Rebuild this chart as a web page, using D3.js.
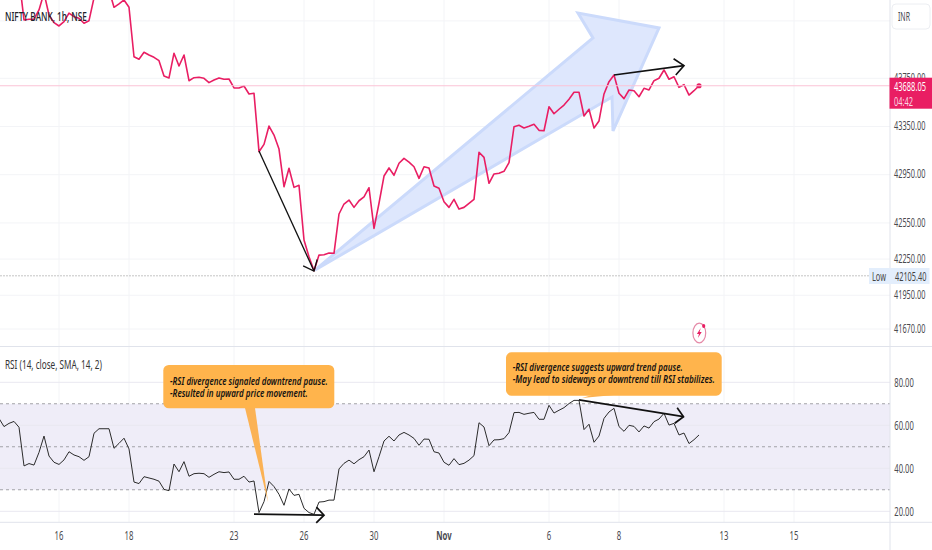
<!DOCTYPE html>
<html>
<head>
<meta charset="utf-8">
<script src="https://cdn.jsdelivr.net/npm/d3@7"></script>
<style>
html,body{margin:0;padding:0;background:#fff;overflow:hidden}
svg{display:block}
text{font-family:"Noto Sans",sans-serif}
</style>
</head>
<body>
<svg id="c" width="932" height="550"></svg>
<script>
const priceValues = [44632,44566,44599,44624,44583,44234,44240,44240,44317,44458,44275,44212,44184,44220,44290,44261,44248,44207,44228,44417,44483,44483,44483,44339,44367,44400,44339,43929,43908,43966,43943,43924,43896,43769,43753,43958,43852,43943,43730,43755,43758,43750,43714,43736,43753,43742,43744,43670,43670,43686,43620,43626,43141,43202,43354,43279,43163,42850,43003,42845,42862,42408,42269,42153,42283,42286,42300,42298,42624,42707,42740,42679,42734,42767,42842,42505,42713,42939,43006,42945,43045,43086,43055,43016,42920,43016,43006,42856,42837,42726,42679,42746,42665,42679,42713,42746,43136,43094,42879,42956,42962,42978,43050,43348,43360,43338,43352,43368,43318,43315,43514,43456,43493,43528,43576,43634,43634,43437,43493,43338,43396,43620,43722,43777,43626,43581,43653,43647,43597,43667,43653,43730,43750,43819,43742,43763,43675,43697,43611,43647,43688];
const rsiValues = [63.2,59.4,60.9,61.8,59.1,41.1,42.2,41.5,47.4,55.0,45.7,42.8,41.8,43.9,47.7,46.2,45.4,43.7,45.4,56.3,58.4,58.4,58.4,49.3,51.6,54.0,49.0,33.6,32.9,36.1,35.5,34.9,34.0,30.2,29.6,42.0,38.4,43.1,36.3,37.5,37.7,37.5,35.8,37.2,38.4,38.0,38.3,34.9,34.9,36.3,33.6,34.1,19.4,24.5,33.9,31.5,27.9,22.8,30.4,27.4,27.9,21.4,19.4,18.6,24.3,24.5,25.2,25.2,39.7,42.3,43.8,42.1,44.0,45.4,48.5,38.4,45.4,52.7,54.9,52.7,55.5,56.7,55.5,53.9,50.7,53.6,53.5,47.7,47.1,42.8,41.4,44.5,41.7,42.3,43.8,45.9,61.2,59.2,50.5,53.2,53.3,53.8,56.6,65.9,66.0,65.1,65.6,66.0,62.8,62.8,69.3,65.7,67.0,68.2,70.1,71.6,71.6,58.0,60.5,52.1,55.0,63.2,66.2,67.9,59.4,57.2,60.0,59.5,56.9,59.7,58.7,61.7,62.9,65.6,60.1,60.9,55.5,56.4,51.5,53.3,55.5];
const timeTickBars = [12,26,47,61,75,89,110,124,145,159];
const timeTickLabels = ["16","18","23","26","30","Nov","6","8","13","15"];
const priceTicks = [43750,43350,42950,42550,42250,41950,41670];
const priceGridExtra = [44226];
const rsiTicks = [80,60,40,20];
const rsiLevels = [70,50,30];
const lastPrice = 43688.05;
const lowPrice = 42105.40;
const blueArrow = [[63.2,42159],[118.8,44085],[115.8,44292],[132,44168],[122.8,43313],[122.6,43595]];
const priceArrows = [[[52,43147],[63,42151]],[[123,43777],[137,43855]]];
const rsiArrows = [[[51,18.7],[65,18.2]],[[116,71.8],[136.9,64]]];
const callout1Lines = ["-RSI divergence signaled downtrend pause.","-Resulted in upward price movement."];
const callout2Lines = ["-RSI divergence suggests upward trend pause.","-May lead to sideways or downtrend till RSI stabilizes."];

const W=932,H=550,axisX=890,sep=346.5,rsiBottom=522.3;
const svg=d3.select("#c");
const x=d3.scaleLinear().domain([0,100]).range([-1,499]);
const yP=d3.scaleLinear().domain([43350,41670]).range([126.5,329]);
const yR=d3.scaleLinear().domain([80,20]).range([382.3,511.3]);

const defs=svg.append("defs");
defs.append("clipPath").attr("id","pc").append("rect").attr("x",0).attr("y",0).attr("width",axisX).attr("height",sep);
defs.append("clipPath").attr("id","rc").append("rect").attr("x",0).attr("y",sep).attr("width",axisX).attr("height",rsiBottom-sep);

const gridCol="#f3f4f7";
svg.append("g").selectAll("line").data(timeTickBars).join("line")
 .attr("x1",d=>x(d)).attr("x2",d=>x(d)).attr("y1",0).attr("y2",rsiBottom)
 .attr("stroke",gridCol).attr("stroke-width",1);
svg.append("g").selectAll("line").data(priceTicks.concat(priceGridExtra)).join("line")
 .attr("x1",0).attr("x2",axisX).attr("y1",d=>yP(d)).attr("y2",d=>yP(d))
 .attr("stroke",gridCol).attr("stroke-width",1);
svg.append("rect").attr("x",0).attr("width",axisX).attr("y",yR(70)).attr("height",yR(30)-yR(70)).attr("fill","#efedf8");
svg.append("g").selectAll("line").data(rsiTicks).join("line")
 .attr("x1",0).attr("x2",axisX).attr("y1",d=>yR(d)).attr("y2",d=>yR(d))
 .attr("stroke","#e9e8f0").attr("stroke-width",1);
svg.append("g").selectAll("line").data(rsiLevels).join("line")
 .attr("x1",0).attr("x2",axisX).attr("y1",d=>yR(d)).attr("y2",d=>yR(d))
 .attr("stroke","#a3a3a8").attr("stroke-width",1.1).attr("stroke-dasharray","3 3");

const frameCol="#e0e3eb";
svg.append("line").attr("x1",axisX).attr("x2",axisX).attr("y1",0).attr("y2",H).attr("stroke",frameCol);
svg.append("line").attr("x1",0).attr("x2",W).attr("y1",sep).attr("y2",sep).attr("stroke",frameCol);
svg.append("line").attr("x1",0).attr("x2",W).attr("y1",rsiBottom).attr("y2",rsiBottom).attr("stroke",frameCol);

svg.append("line").attr("x1",0).attr("x2",axisX).attr("y1",yP(lowPrice)-0.7).attr("y2",yP(lowPrice)-0.7)
 .attr("stroke","#c4c4c4").attr("stroke-width",1).attr("stroke-dasharray","2 1");

const pG=svg.append("g").attr("clip-path","url(#pc)");
pG.append("path").attr("d",d3.line().x(d=>x(d[0])).y(d=>yP(d[1])).curve(d3.curveLinearClosed)(blueArrow))
 .attr("fill","#dee7fd").attr("stroke","#cbdafb").attr("stroke-width",3).attr("stroke-linejoin","miter");

svg.append("line").attr("x1",0).attr("x2",axisX).attr("y1",yP(lastPrice)).attr("y2",yP(lastPrice))
 .attr("stroke","#fbc3d6").attr("stroke-width",1);

pG.append("path").datum(priceValues)
 .attr("d",d3.line().x((d,i)=>x(i)).y(d=>yP(d)))
 .attr("fill","none").attr("stroke","#e91e63").attr("stroke-width",1.6).attr("stroke-linejoin","round");
pG.append("circle").attr("cx",x(priceValues.length-1)).attr("cy",yP(lastPrice)).attr("r",2.6).attr("fill","#e91e63");

const rG=svg.append("g").attr("clip-path","url(#rc)");
rG.append("path").datum(rsiValues)
 .attr("d",d3.line().x((d,i)=>x(i)).y(d=>yR(d)))
 .attr("fill","none").attr("stroke","#2b2b2b").attr("stroke-width",1).attr("stroke-linejoin","round");

// text helper: squeezes the text horizontally to the width seen in the reference
function label(t,px,py,w,opts={}){
 const e=(opts.parent||svg).append("text").attr("x",px).attr("y",py).attr("dy","0.35em")
  .attr("font-size",opts.size||13).attr("fill",opts.fill||"#4a4a4f").attr("font-weight",opts.weight||400).text(t);
 if(opts.italic) e.attr("font-style","italic");
 if(opts.anchor) e.attr("text-anchor",opts.anchor);
 const sx=w?w/e.node().getComputedTextLength():(opts.sx||1);
 e.attr("transform",`translate(${px},0) scale(${sx},1) translate(${-px},0)`);
 return e;
}

const orange="#ffb44c";
function callout(bx,by,bw,bh,tail,lines,tx,ws,ys){
 const g=svg.append("g");
 g.append("path").attr("d",d3.line()(tail)).attr("fill","#fbb254");
 g.append("rect").attr("x",bx).attr("y",by).attr("width",bw).attr("height",bh).attr("rx",5.5).attr("fill",orange);
 lines.forEach((t,i)=>label(t,tx,ys[i],ws[i],{parent:g,size:11.5,italic:true,weight:600,fill:"#111"}));
}
callout(163.3,365,171,43.3,[[245,408],[255,408],[268,502]],callout1Lines,170,[158,138],[380.7,392.7]);
callout(506,352.3,215.7,43.4,[[592,395],[614,395],[582,398]],callout2Lines,512.7,[170,202.3],[367.3,379]);

function arrow(a,b,sw,yS,len,ang){
 const x1=x(a[0]),y1=yS(a[1]),x2=x(b[0]),y2=yS(b[1]);
 const t=Math.atan2(y2-y1,x2-x1);
 const g=svg.append("g").attr("fill","none").attr("stroke","#111").attr("stroke-width",sw);
 g.append("line").attr("x1",x1).attr("y1",y1).attr("x2",x2).attr("y2",y2);
 g.append("path").attr("d",d3.line()([
  [x2-len*Math.cos(t-ang),y2-len*Math.sin(t-ang)],[x2,y2],[x2-len*Math.cos(t+ang),y2-len*Math.sin(t+ang)]]));
}
arrow(priceArrows[0][0],priceArrows[0][1],1.3,yP,12,0.7);
arrow(priceArrows[1][0],priceArrows[1][1],1.6,yP,12.5,0.72);
arrow(rsiArrows[0][0],rsiArrows[0][1],1.7,yR,11,0.8);
arrow(rsiArrows[1][0],rsiArrows[1][1],1.7,yR,11,0.8);

// flash icon
const ic=svg.append("g").attr("transform","translate(699.3,333)");
ic.append("ellipse").attr("rx",6.4).attr("ry",9.8).attr("fill","#fff").attr("stroke","#e58aa8").attr("stroke-width",1.2);
ic.append("path").attr("d","M1.4,-5 L-2.4,1 L-0.3,1 L-1.4,5 L2.4,-1 L0.3,-1 Z").attr("fill","#e91e63");
ic.append("ellipse").attr("cx",4.4).attr("cy",-7).attr("rx",1.6).attr("ry",2).attr("fill","#e91e63");

label("NIFTY BANK, 1h, NSE",5,16.5,82,{fill:"#20232c",size:13,weight:500});
label("RSI (14, close, SMA, 14, 2)",5,364,97,{fill:"#333",size:13});

priceTicks.forEach(v=>label(d3.format(".2f")(v),894,yP(v)-0.8,31.5));
rsiTicks.forEach(v=>label(d3.format(".2f")(v),894.3,yR(v),19.5));
timeTickBars.forEach((b,i)=>{
 label(timeTickLabels[i],x(b),536,null,{anchor:"middle",size:12.5,sx:0.62,weight:timeTickLabels[i]==="Nov"?700:400});
});

svg.append("rect").attr("x",892).attr("y",4).attr("width",38).attr("height",25).attr("rx",4).attr("fill","#fff").attr("stroke","#eceef2");
label("INR",898,16.5,12,{size:13});

svg.append("rect").attr("x",889.5).attr("y",77.7).attr("width",42.5).attr("height",31).attr("fill","#e91e63");
label(d3.format(".2f")(lastPrice),894,86.5,32,{fill:"#fff"});
label("04:42",894,101,19,{fill:"#fbd5e2"});

svg.append("rect").attr("x",869).attr("y",268).attr("width",60.5).attr("height",16).attr("fill","#e3eefc");
label("Low",872,276,14,{fill:"#444"});
label(d3.format(".2f")(lowPrice),895,276,31.5,{fill:"#444"});
</script>
</body>
</html>
